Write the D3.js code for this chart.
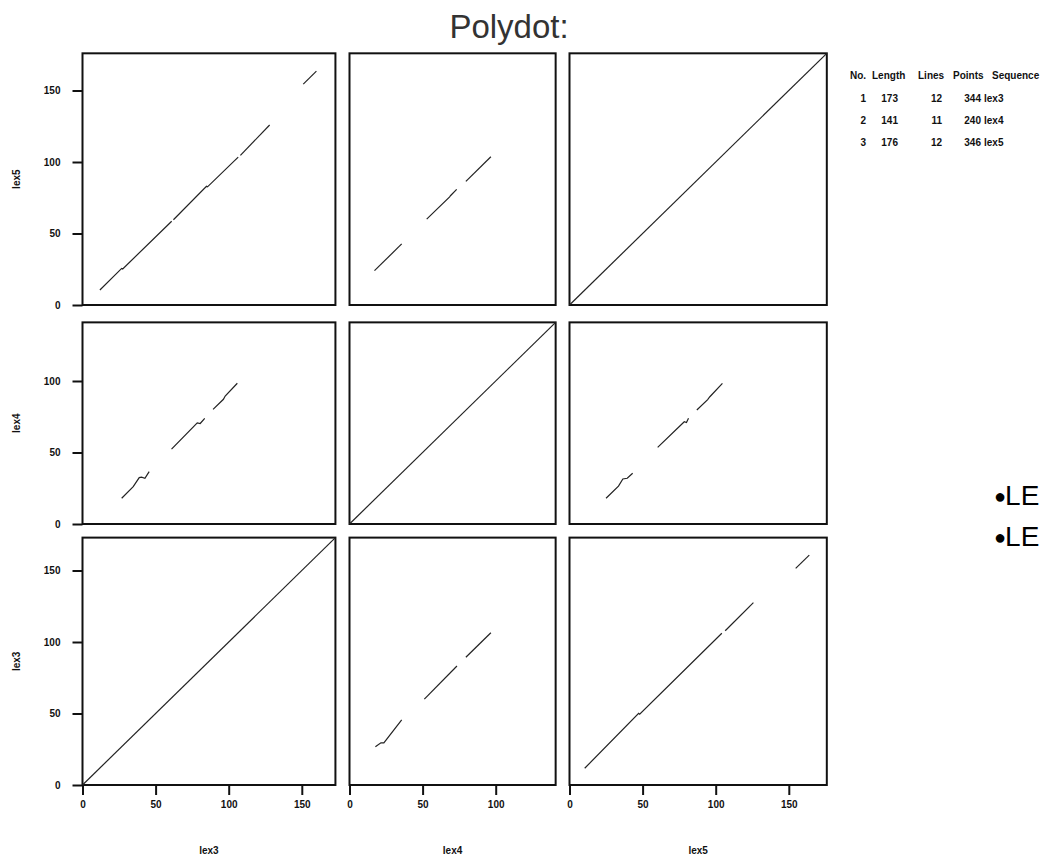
<!DOCTYPE html>
<html>
<head>
<meta charset="utf-8">
<script src="https://cdn.jsdelivr.net/npm/d3@7"></script>
<style>
  body { margin: 0; background: #fff; overflow: hidden; }
  text { font-family: "Liberation Sans", Arial, sans-serif; }
</style>
</head>
<body>
<div id="chart-area"></div>
<script>
// sequences (column order left -> right, row order bottom -> top)
var seqNames = ["lex3", "lex4", "lex5"];
var seqLengths = [173, 141, 176];
var seqLines = [12, 11, 12];
var seqPoints = [344, 240, 346];
var tickValues = [0, 50, 100, 150];

// dot plot hits, polylines in [x residue, y residue]
// name: hits_<x seq>_<y seq>
var hits_1_3 = [
  [[11.9, 10.5], [26.8, 25.6], [27.5, 25.2], [61, 58.6]],
  [[62.2, 59.6], [84.8, 83], [85.5, 82.6], [106.5, 103.4]],
  [[108, 104.6], [128, 125.9]],
  [[151, 154.5], [160, 163.6]]
];
var hits_2_3 = [
  [[17.1, 24.0], [35.7, 42.7]],
  [[52.8, 60.1], [68.5, 75.6], [69.2, 76.6], [73.3, 80.9]],
  [[79.6, 86.5], [96.7, 103.7]]
];
var hits_3_3 = [
  [[0, 0], [176, 176]]
];
var hits_1_2 = [
  [[26.8, 18], [34.7, 26.1], [38.8, 32.4], [40.4, 32.7], [42.7, 32], [45.6, 36.6]],
  [[60.9, 52.4], [78.5, 70.7], [80.5, 70.3], [83.6, 73.9]],
  [[89.3, 80.2], [96.4, 87.2], [97.6, 89.5], [105.9, 98.4]]
];
var hits_2_2 = [
  [[0, 0], [141, 141]]
];
var hits_3_2 = [
  [[25.0, 18.0], [33.5, 26.5], [36.5, 31.5], [39.5, 32.0], [43.2, 35.5]],
  [[60.3, 53.6], [78.5, 71.5], [80, 71], [81.4, 73.9]],
  [[87.1, 79.7], [94.5, 87], [96, 89], [104.6, 98.4]]
];
var hits_1_1 = [
  [[0, 0], [173, 173]]
];
var hits_2_1 = [
  [[17.7, 26.8], [21.5, 29.5], [23.5, 29.5], [35.7, 45.5]],
  [[51.2, 60.1], [73.5, 83.2]],
  [[79.6, 89.3], [96.7, 106.5]]
];
var hits_3_1 = [
  [[10.4, 11.7], [47.3, 50.1], [48, 49.5], [104.2, 106.1]],
  [[106.5, 107.9], [125.8, 127.5]],
  [[154.7, 151.5], [164, 160.8]]
];

// panel grid: rows top -> bottom show seq 3, 2, 1
var panels = [
  { row: 0, col: 0, hits: hits_1_3 },
  { row: 0, col: 1, hits: hits_2_3 },
  { row: 0, col: 2, hits: hits_3_3 },
  { row: 1, col: 0, hits: hits_1_2 },
  { row: 1, col: 1, hits: hits_2_2 },
  { row: 1, col: 2, hits: hits_3_2 },
  { row: 2, col: 0, hits: hits_1_1 },
  { row: 2, col: 1, hits: hits_2_1 },
  { row: 2, col: 2, hits: hits_3_1 }
];

var width = 1042, height = 858;
var kx = 1.462, ky = 1.43;
var colLeft = [82.5, 349.5, 569.5];
var rowBottom = [305, 524, 785];
var rowSeq = [2, 1, 0];

var svg = d3.select("#chart-area")
  .append("svg")
  .attr("width", width)
  .attr("height", height);

var xScales = seqLengths.map(function(len, c) {
  return d3.scaleLinear().domain([0, len]).range([colLeft[c], colLeft[c] + len * kx]);
});
var yScales = rowSeq.map(function(s, r) {
  var len = seqLengths[s];
  return d3.scaleLinear().domain([0, len]).range([rowBottom[r], rowBottom[r] - len * ky]);
});

// title
svg.append("text")
  .attr("x", 509)
  .attr("y", 38)
  .attr("text-anchor", "middle")
  .attr("font-family", "'DejaVu Sans', sans-serif")
  .attr("font-size", "33px")
  .attr("fill", "#333")
  .text("Polydot:");

var line = d3.line();

panels.forEach(function(p) {
  var x = xScales[p.col], y = yScales[p.row];
  var g = svg.append("g");

  g.append("rect")
    .attr("x", x.range()[0])
    .attr("y", y.range()[1])
    .attr("width", x.range()[1] - x.range()[0])
    .attr("height", y.range()[0] - y.range()[1])
    .attr("fill", "none")
    .attr("stroke", "#111")
    .attr("stroke-width", 2);

  g.selectAll("path.hit")
    .data(p.hits)
    .enter()
    .append("path")
    .attr("class", "hit")
    .attr("d", function(d) {
      return line(d.map(function(pt) { return [x(pt[0]), y(pt[1])]; }));
    })
    .attr("fill", "none")
    .attr("stroke", "#222")
    .attr("stroke-width", 1.2);
});

function styleAxis(sel) {
  sel.select(".domain").remove();
  sel.selectAll(".tick line").attr("stroke", "#111").attr("stroke-width", 2);
  sel.selectAll(".tick text")
    .attr("fill", "#111")
    .attr("font-size", "10px")
    .attr("font-weight", "bold")
    .attr("font-family", "'Liberation Sans', Arial, sans-serif");
}

// Y axes on the left column
rowSeq.forEach(function(s, r) {
  var y = yScales[r];
  var ax = svg.append("g")
    .attr("transform", "translate(" + colLeft[0] + ",0)")
    .call(d3.axisLeft(y)
      .tickValues(tickValues.filter(function(t) { return t <= seqLengths[s]; }))
      .tickSize(10)
      .tickPadding(12)
      .tickFormat(d3.format("d")));
  styleAxis(ax);

  svg.append("text")
    .attr("transform", "translate(20," + ((y.range()[0] + y.range()[1]) / 2) + ") rotate(-90)")
    .attr("text-anchor", "middle")
    .attr("font-size", "10px")
    .attr("font-weight", "bold")
    .attr("fill", "#111")
    .text(seqNames[s]);
});

// X axes on the bottom row
seqLengths.forEach(function(len, c) {
  var x = xScales[c];
  var ax = svg.append("g")
    .attr("transform", "translate(0," + rowBottom[2] + ")")
    .call(d3.axisBottom(x)
      .tickValues(tickValues.filter(function(t) { return t <= len; }))
      .tickSize(10)
      .tickPadding(6)
      .tickFormat(d3.format("d")));
  styleAxis(ax);

  svg.append("text")
    .attr("x", (x.range()[0] + x.range()[1]) / 2)
    .attr("y", 854)
    .attr("text-anchor", "middle")
    .attr("font-size", "10px")
    .attr("font-weight", "bold")
    .attr("fill", "#111")
    .text(seqNames[c]);
});

// sequence table
var table = svg.append("g")
  .attr("font-size", "10px")
  .attr("font-weight", "bold")
  .attr("fill", "#111");

var headers = [
  { label: "No.", x: 850 },
  { label: "Length", x: 872 },
  { label: "Lines", x: 918 },
  { label: "Points", x: 953 },
  { label: "Sequence", x: 992 }
];
headers.forEach(function(h) {
  table.append("text").attr("x", h.x).attr("y", 79).text(h.label);
});

seqNames.forEach(function(name, i) {
  var ty = 102 + i * 22;
  table.append("text").attr("x", 866).attr("y", ty).attr("text-anchor", "end").text(i + 1);
  table.append("text").attr("x", 898).attr("y", ty).attr("text-anchor", "end").text(seqLengths[i]);
  table.append("text").attr("x", 942).attr("y", ty).attr("text-anchor", "end").text(seqLines[i]);
  table.append("text").attr("x", 981).attr("y", ty).attr("text-anchor", "end").text(seqPoints[i]);
  table.append("text").attr("x", 984).attr("y", ty).text(name);
});

// stray slide bullets at the right edge
[505, 546].forEach(function(by) {
  var t = svg.append("text")
    .attr("x", 994)
    .attr("y", by)
    .attr("font-family", "'DejaVu Sans', sans-serif")
    .attr("fill", "#000");
  t.append("tspan").attr("font-size", "20px").attr("dy", -2).text("●");
  t.append("tspan").attr("font-size", "28px").attr("dy", 2).attr("dx", -1).text("LE");
});
</script>
</body>
</html>
